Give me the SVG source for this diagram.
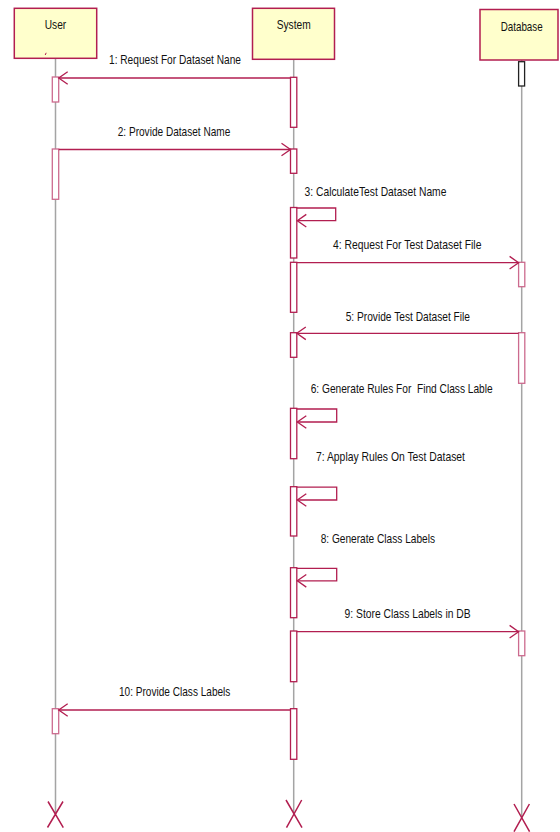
<svg xmlns="http://www.w3.org/2000/svg" width="560" height="832" viewBox="0 0 560 832">
  <style>
    .obj { fill: #ffffcc; stroke: #b21e50; stroke-width: 1.5; }
    .lbl { font-family: "Liberation Sans", Arial, sans-serif; font-size: 13.5px; fill: #111; }
    .life { stroke: #a4a4a4; stroke-width: 1.5; fill: none; }
    .act { fill: #ffffff; stroke: #b21e50; stroke-width: 1.3; }
    .act-soft { fill: #ffffff; stroke: #cc6a8e; stroke-width: 1.3; }
    .act-db0 { fill: #ffffff; stroke: #222; stroke-width: 1.3; }
    .msg { stroke: #b21e50; stroke-width: 1.3; fill: none; marker-end: url(#open); }
    .kill { stroke: #b21e50; stroke-width: 1.5; fill: none; }
  </style>
  <defs>
    <marker id="open" markerUnits="userSpaceOnUse" markerWidth="14" markerHeight="16" viewBox="-11 -8 12 16" refX="0" refY="0" orient="auto">
      <path d="M -9 -6.3 L 0 0 L -9 6.3" fill="none" stroke="#b21e50" stroke-width="1.3"/>
    </marker>
  </defs>

  <rect width="560" height="832" fill="#ffffff"/>

  <!-- lifelines -->
  <g id="lifelines">
    <line class="life" x1="55.5" y1="58.5" x2="55.5" y2="814"/>
    <line class="life" x1="293.7" y1="59.5" x2="293.7" y2="814"/>
    <line class="life" x1="521.7" y1="60" x2="521.7" y2="818"/>
  </g>

  <!-- objects -->
  <g id="user">
    <rect class="obj" x="14.3" y="8.3" width="82.4" height="50"/>
    <text class="lbl" x="55.5" y="28.5" text-anchor="middle" textLength="21.5" lengthAdjust="spacingAndGlyphs">User</text>
    <line x1="45.2" y1="55" x2="46.2" y2="52.8" stroke="#b21e50" stroke-width="1"/>
  </g>
  <g id="system">
    <rect class="obj" x="252.5" y="8.3" width="82" height="51"/>
    <text class="lbl" x="293.7" y="28.5" text-anchor="middle" textLength="34" lengthAdjust="spacingAndGlyphs">System</text>
  </g>
  <g id="database">
    <rect class="obj" x="480" y="9.5" width="78" height="50.5"/>
    <text class="lbl" x="521.7" y="30.5" text-anchor="middle" textLength="42" lengthAdjust="spacingAndGlyphs">Database</text>
  </g>

  <!-- activations -->
  <g id="activations-user">
    <rect class="act-soft" x="52.3" y="77" width="6.4" height="25"/>
    <rect class="act-soft" x="52.3" y="149" width="6.4" height="50.3"/>
    <rect class="act-soft" x="52.3" y="708.7" width="6.4" height="25"/>
  </g>
  <g id="activations-system">
    <rect class="act" x="290.5" y="77.3" width="6.3" height="50"/>
    <rect class="act" x="290.5" y="149" width="6.3" height="24.3"/>
    <rect class="act" x="290.5" y="207.5" width="6.3" height="50.5"/>
    <rect class="act" x="290.5" y="262.3" width="6.3" height="50"/>
    <rect class="act" x="290.5" y="332.7" width="6.3" height="24.6"/>
    <rect class="act" x="290.5" y="408.3" width="6.3" height="50.4"/>
    <rect class="act" x="290.5" y="486.7" width="6.3" height="49.3"/>
    <rect class="act" x="290.5" y="567.7" width="6.3" height="50"/>
    <rect class="act" x="290.5" y="631" width="6.3" height="50.7"/>
    <rect class="act" x="290.5" y="708.7" width="6.3" height="50.6"/>
  </g>
  <g id="activations-database">
    <rect class="act-db0" x="518.6" y="61.7" width="6" height="24.3"/>
    <rect class="act-soft" x="518.6" y="262.3" width="6.2" height="24.4"/>
    <rect class="act-soft" x="518.6" y="332.7" width="6.2" height="50.6"/>
    <rect class="act-soft" x="518.6" y="631" width="6.2" height="24.7"/>
  </g>

  <!-- messages -->
  <g id="connectors">
    <path class="msg" d="M 290.5 78 L 58.7 78"/>
    <path class="msg" d="M 58.7 149.5 L 290.5 149.5"/>
    <path class="msg" d="M 296.8 208 L 335.7 208 L 335.7 220.7 L 297.3 220.7"/>
    <path class="msg" d="M 296.8 262.7 L 518.6 262.7"/>
    <path class="msg" d="M 518.6 333.3 L 296.8 333.3"/>
    <path class="msg" d="M 296.8 409 L 336.7 409 L 336.7 422 L 297.3 422"/>
    <path class="msg" d="M 296.8 487.2 L 336.7 487.2 L 336.7 500 L 297.3 500"/>
    <path class="msg" d="M 296.8 568.3 L 336.7 568.3 L 336.7 580.8 L 297.3 580.8"/>
    <path class="msg" d="M 296.8 631.7 L 518.6 631.7"/>
    <path class="msg" d="M 290.5 710 L 58.7 710"/>
  </g>

  <!-- message labels -->
  <g id="labels">
    <text class="lbl" x="175" y="64" text-anchor="middle" textLength="132" lengthAdjust="spacingAndGlyphs">1: Request For Dataset Nane</text>
    <text class="lbl" x="174" y="135.5" text-anchor="middle" textLength="112.5" lengthAdjust="spacingAndGlyphs">2: Provide Dataset Name</text>
    <text class="lbl" x="304.6" y="195.5" textLength="141.8" lengthAdjust="spacingAndGlyphs">3: CalculateTest Dataset Name</text>
    <text class="lbl" x="333" y="248.5" textLength="148.4" lengthAdjust="spacingAndGlyphs">4: Request For Test Dataset File</text>
    <text class="lbl" x="345.7" y="320.5" textLength="124.3" lengthAdjust="spacingAndGlyphs">5: Provide Test Dataset File</text>
    <text class="lbl" x="310.7" y="393" textLength="182" lengthAdjust="spacingAndGlyphs" xml:space="preserve">6: Generate Rules For  Find Class Lable</text>
    <text class="lbl" x="316" y="461" textLength="149" lengthAdjust="spacingAndGlyphs">7: Applay Rules On Test Dataset</text>
    <text class="lbl" x="320.7" y="543" textLength="114.3" lengthAdjust="spacingAndGlyphs">8: Generate Class Labels</text>
    <text class="lbl" x="344.6" y="618" textLength="126" lengthAdjust="spacingAndGlyphs">9: Store Class Labels in DB</text>
    <text class="lbl" x="119" y="696" textLength="111.4" lengthAdjust="spacingAndGlyphs">10: Provide Class Labels</text>
  </g>

  <!-- destruction marks -->
  <g id="ends">
    <path class="kill" d="M 48 801.5 L 63.3 827.7 M 63 801.5 L 47.5 827.5"/>
    <path class="kill" d="M 286 800 L 302 827.7 M 301.7 800 L 286.5 827.7"/>
    <path class="kill" d="M 514 804 L 529.6 831.7 M 529.4 804 L 514 831.7"/>
  </g>
</svg>
